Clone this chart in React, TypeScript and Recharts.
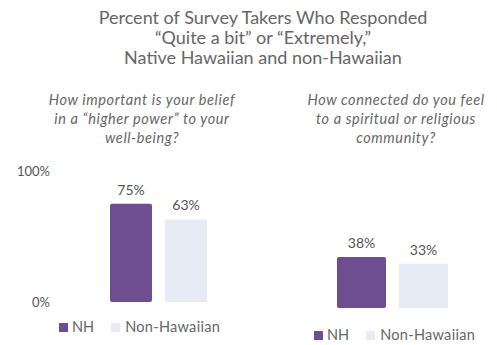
import React from "react";
import { BarChart, Bar, XAxis, YAxis, LabelList, Legend } from "recharts";

const title = [
  "Percent of Survey Takers Who Responded",
  "\u201cQuite a bit\u201d or \u201cExtremely,\u201d",
  "Native Hawaiian and non-Hawaiian",
];
const questions = [
  ["How important is your belief", "in a \u201chigher power\u201d to your", "well-being?"],
  ["How connected do you feel", "to a spiritual or religious", "community?"],
];
const seriesNames = ["NH", "Non-Hawaiian"];
const nhValues = [75, 38];
const nonHawaiianValues = [63, 33];
const yTicks = [0, 100];

const PURPLE = "#6e4d91";
const LIGHT = "#e6ebf6";
const FONT = "Lato, 'Open Sans', sans-serif";

const makeData = (i: number) => [{ name: "q" + i, NH: nhValues[i], NonHawaiian: nonHawaiianValues[i] }];

const LegendContent = ({ left }: { left: number }) => (
  <div style={{ display: "flex", alignItems: "center", fontFamily: FONT, fontSize: 14.5, lineHeight: "16px", color: "#666", paddingLeft: left }}>
    <span style={{ width: 9, height: 9, background: PURPLE, display: "inline-block", marginRight: 4 }} />
    <span style={{ marginRight: 17 }}>{seriesNames[0]}</span>
    <span style={{ width: 9, height: 9, background: LIGHT, display: "inline-block", marginRight: 5 }} />
    <span style={{ letterSpacing: 0.3 }}>{seriesNames[1]}</span>
  </div>
);

const labelStyle = { fill: "#555", fontSize: 14, fontFamily: FONT };

export default function App() {
  return (
    <div style={{ position: "absolute", left: 0, top: 0, width: 497, height: 345, background: "#fff", fontFamily: FONT, overflow: "hidden" }}>
      <div style={{ position: "absolute", top: 7, left: 0, width: 526, textAlign: "center", fontSize: 18, lineHeight: "20px", color: "#666" }}>
        {title.map((t) => (
          <div key={t}>{t}</div>
        ))}
      </div>
      {questions.map((q, i) => (
        <div
          key={i}
          style={{
            position: "absolute",
            top: 90,
            left: i === 0 ? 2 : 256,
            width: 280,
            textAlign: "center",
            fontSize: 14.5,
            letterSpacing: 0.6,
            lineHeight: "19px",
            fontStyle: "italic",
            color: "#666",
          }}
        >
          {q.map((l) => (
            <div key={l}>{l}</div>
          ))}
        </div>
      ))}
      <div style={{ position: "absolute", left: 0, top: 160 }}>
        <BarChart width={250} height={185} data={makeData(0)} margin={{ top: 11, right: 33, bottom: 27, left: 0 }} barCategoryGap={10} barGap={13}>
          <XAxis dataKey="name" hide />
          <YAxis
            domain={[0, 100]}
            ticks={yTicks}
            width={100}
            axisLine={false}
            tickLine={false}
            tickSize={0}
            tickMargin={50}
            tickFormatter={(v: number) => v + "%"}
            tick={{ fill: "#555", fontSize: 13, fontFamily: FONT }}
          />
          <Bar dataKey="NH" fill={PURPLE} isAnimationActive={false} radius={[2, 2, 2, 2]}>
            <LabelList dataKey="NH" position="top" offset={9} formatter={(v: number) => v + "%"} style={labelStyle} />
          </Bar>
          <Bar dataKey="NonHawaiian" fill={LIGHT} isAnimationActive={false}>
            <LabelList dataKey="NonHawaiian" position="top" offset={9} formatter={(v: number) => v + "%"} style={labelStyle} />
          </Bar>
          <Legend content={() => <LegendContent left={59} />} wrapperStyle={{ left: 0, top: 159, width: 250 }} />
        </BarChart>
      </div>
      <div style={{ position: "absolute", left: 250, top: 160 }}>
        <BarChart width={247} height={185} data={makeData(1)} margin={{ top: 14, right: 39, bottom: 21, left: 77 }} barCategoryGap={10} barGap={13}>
          <XAxis dataKey="name" hide />
          <YAxis domain={[0, 100]} hide />
          <Bar dataKey="NH" fill={PURPLE} isAnimationActive={false} radius={[2, 2, 2, 2]}>
            <LabelList dataKey="NH" position="top" offset={9} formatter={(v: number) => v + "%"} style={labelStyle} />
          </Bar>
          <Bar dataKey="NonHawaiian" fill={LIGHT} isAnimationActive={false}>
            <LabelList dataKey="NonHawaiian" position="top" offset={9} formatter={(v: number) => v + "%"} style={labelStyle} />
          </Bar>
          <Legend content={() => <LegendContent left={64} />} wrapperStyle={{ left: 0, top: 167, width: 247 }} />
        </BarChart>
      </div>
    </div>
  );
}
